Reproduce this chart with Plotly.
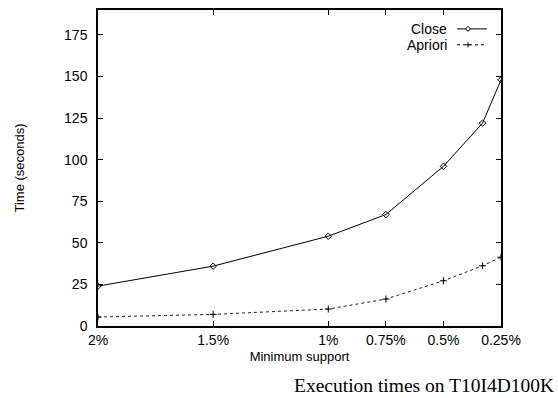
import plotly.graph_objects as go

support = [2, 1.5, 1, 0.75, 0.5, 0.33, 0.25]
close_time = [24, 36, 54, 67, 96, 122, 148]
apriori_time = [5.4, 7, 10.2, 16.2, 27.2, 36.2, 41.4]
xtick_vals = [2, 1.5, 1, 0.75, 0.5, 0.25]
xtick_text = ["2%", "1.5%", "1%", "0.75%", "0.5%", "0.25%"]
ytick_vals = [0, 25, 50, 75, 100, 125, 150, 175]

SANS = "Arial, Liberation Sans, sans-serif"

fig = go.Figure()
fig.add_trace(go.Scatter(
    x=support, y=close_time, mode="lines+markers", name="Close",
    line=dict(color="black", width=1),
    marker=dict(symbol="diamond-open", size=5, color="black", line=dict(width=1, color="black")),
    showlegend=False,
))
fig.add_trace(go.Scatter(
    x=support, y=apriori_time, mode="lines+markers", name="Apriori",
    line=dict(color="#222", width=1, dash="3px,3px"),
    marker=dict(symbol="cross-thin-open", size=5, color="black", line=dict(width=1, color="black")),
    showlegend=False,
))

L, R, T, B = 98, 57, 8, 72
W, H = 558, 398
pw = W - L - R
ph = H - T - B

def px(x):
    return (x - L) / pw

def py(y):
    return (H - B - y) / ph

# manual legend (gnuplot style: text, then sample)
legend_items = [("Close", 27, "solid", "diamond"), ("Apriori", 43, "3px,3px", "plus")]
shapes = []
annotations = []
for name, yy, dash, mk in legend_items:
    annotations.append(dict(text=name, x=px(449), y=py(yy), xref="paper", yref="paper",
                            xanchor="right", yanchor="middle", showarrow=False,
                            font=dict(family=SANS, size=14, color="black")))
    shapes.append(dict(type="line", xref="paper", yref="paper", x0=px(457), x1=px(487),
                       y0=py(yy), y1=py(yy), line=dict(color="black", width=1, dash=dash)))
    cx, cy = px(468), py(yy)
    dx, dy = 2.5 / pw, 2.5 / ph
    if mk == "diamond":
        path = f"M {cx-dx},{cy} L {cx},{cy+dy} L {cx+dx},{cy} L {cx},{cy-dy} Z"
    else:
        path = f"M {cx-dx},{cy} L {cx+dx},{cy} M {cx},{cy-dy} L {cx},{cy+dy}"
    shapes.append(dict(type="path", xref="paper", yref="paper", path=path,
                       line=dict(color="black", width=1), fillcolor="white" if mk == "diamond" else None))

annotations.append(dict(text="Execution times on T10I4D100K", x=px(556), y=py(386),
                        xref="paper", yref="paper", xanchor="right", yanchor="middle",
                        showarrow=False,
                        font=dict(family="Liberation Serif, Times New Roman, serif", size=19.5, color="black")))

fig.update_layout(
    width=W, height=H,
    margin=dict(l=L, r=R, t=T, b=B),
    paper_bgcolor="white", plot_bgcolor="white",
    font=dict(family=SANS, size=14, color="black"),
    shapes=shapes, annotations=annotations,
    xaxis=dict(
        range=[2, 0.25], tickvals=xtick_vals, ticktext=xtick_text,
        ticks="inside", ticklen=5, tickwidth=1, tickcolor="black",
        showline=True, linecolor="black", linewidth=1.5, mirror="ticks",
        showgrid=False, zeroline=False,
        tickfont=dict(family=SANS, size=14),
        title=dict(text="Minimum support", font=dict(family=SANS, size=13), standoff=5),
    ),
    yaxis=dict(
        range=[0, 190], tickvals=ytick_vals,
        ticks="inside", ticklen=5, tickwidth=1, tickcolor="black",
        showline=True, linecolor="black", linewidth=1.5, mirror="ticks",
        showgrid=False, zeroline=False,
        tickfont=dict(family=SANS, size=14), ticklabelstandoff=6,
        title=dict(text="Time (seconds)", font=dict(family=SANS, size=13), standoff=37),
    ),
)

fig.write_html("out.html")
